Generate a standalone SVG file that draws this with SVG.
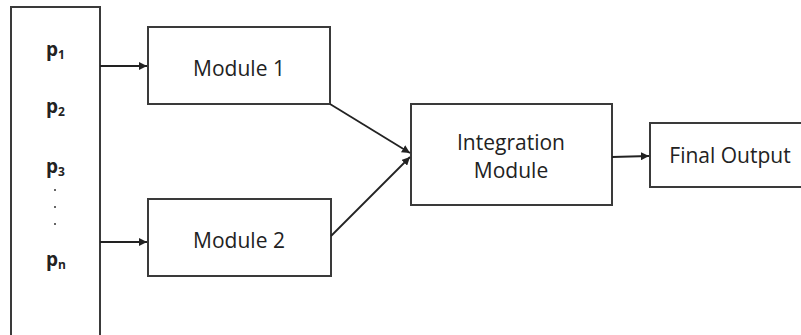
<svg xmlns="http://www.w3.org/2000/svg" width="801" height="335" viewBox="0 0 801 335">
<style>
.box{fill:#fff;stroke:#3a3a3a;stroke-width:2}
.lbl{font-family:"Open Sans","Liberation Sans",sans-serif;font-size:21px;fill:#222;text-anchor:middle;dominant-baseline:central}
.p{font-family:"Open Sans","Liberation Sans",sans-serif;font-size:19px;font-weight:bold;fill:#222}
.sub{font-size:12px}
.dot{fill:#333}
.conn{stroke:#222;stroke-width:1.8;fill:none}
</style>
<defs>
<marker id="ah" viewBox="0 0 10 10" refX="10" refY="5" markerWidth="4.5" markerHeight="4.5" orient="auto" markerUnits="strokeWidth">
<path d="M0,0 L10,5 L0,10 z" fill="#222"/>
</marker>
</defs>
<rect width="801" height="335" fill="#fff"/>
<g id="inputs">
<rect class="box" x="11" y="7" width="89" height="330"/>
<text class="p" x="46" y="56">p<tspan class="sub" dy="3">1</tspan></text>
<text class="p" x="46" y="113">p<tspan class="sub" dy="3">2</tspan></text>
<text class="p" x="46" y="173">p<tspan class="sub" dy="3">3</tspan></text>
<circle class="dot" cx="55" cy="190" r="1"/>
<circle class="dot" cx="55" cy="207" r="1"/>
<circle class="dot" cx="55" cy="224" r="1"/>
<text class="p" x="46" y="266">p<tspan class="sub" dy="3">n</tspan></text>
</g>
<g id="module1">
<rect class="box" x="148" y="27" width="182" height="77"/>
<text class="lbl" x="239" y="68">Module 1</text>
</g>
<g id="module2">
<rect class="box" x="148" y="199" width="183" height="77"/>
<text class="lbl" x="239" y="240">Module 2</text>
</g>
<g id="integration">
<rect class="box" x="411" y="104" width="201" height="101"/>
<text class="lbl" x="511" y="142">Integration</text>
<text class="lbl" x="511" y="170">Module</text>
</g>
<g id="final">
<rect class="box" x="650" y="123" width="152" height="64"/>
<text class="lbl" x="730" y="155">Final Output</text>
</g>
<g id="connectors">
<line class="conn" x1="100" y1="66" x2="147" y2="66" marker-end="url(#ah)"/>
<line class="conn" x1="100" y1="242" x2="147" y2="242" marker-end="url(#ah)"/>
<line class="conn" x1="330" y1="104" x2="410" y2="153" marker-end="url(#ah)"/>
<line class="conn" x1="331" y1="236" x2="410" y2="157" marker-end="url(#ah)"/>
<line class="conn" x1="612" y1="157" x2="649" y2="156" marker-end="url(#ah)"/>
</g>
</svg>
